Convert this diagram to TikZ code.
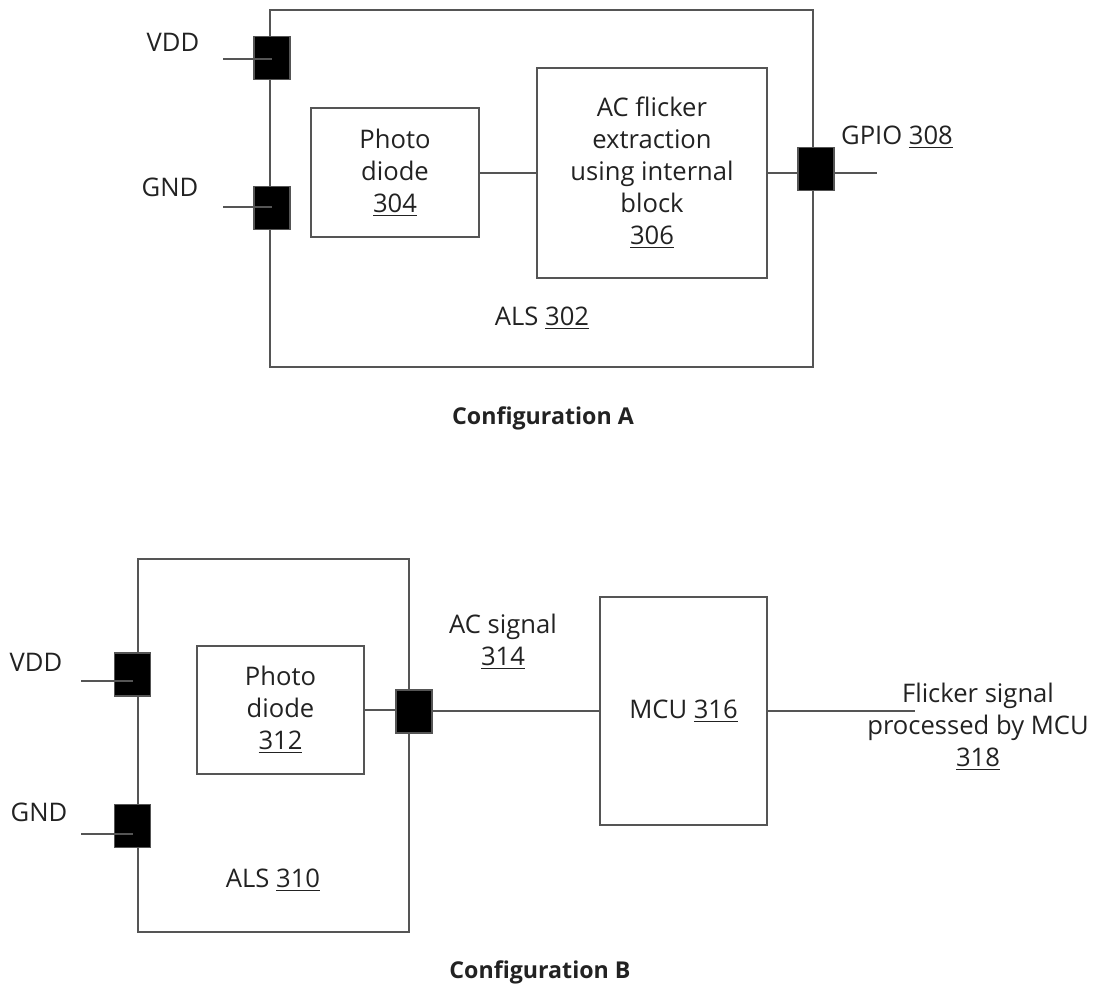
\documentclass[tikz,border=0pt]{standalone}
\usepackage{fontspec}
\setmainfont{Open Sans}
\usepackage{tikz}
\definecolor{linegray}{HTML}{555555}
\definecolor{textgray}{HTML}{222222}
\tikzset{
  lbl/.style={text=textgray,align=center,inner sep=0pt,font=\fontsize{12.8}{16}\selectfont},
  blockbox/.style={draw=linegray,line width=1pt,inner sep=0pt,lbl},
  pad/.style={fill=black,draw=linegray,line width=0.6pt,minimum width=18pt,minimum height=21.5pt,inner sep=0pt},
  wire/.style={draw=linegray,line width=1pt},
  caption/.style={text=textgray,inner sep=0pt,font=\fontsize{11.6}{14}\selectfont\bfseries}
}
\newcommand{\refnum}[1]{\underline{#1}}
\begin{document}
\begin{tikzpicture}[x=0.5pt,y=-0.5pt]
	  \useasboundingbox (0,0) rectangle (1093,992);
	  % Configuration A
	  \node[blockbox,minimum width=271.5pt,minimum height=178.5pt] (alsA) at (541.5,188.5) {};
	  \node[blockbox,minimum width=84pt,minimum height=64.5pt] (pdA) at (395,172.5) {Photo\\diode\\\refnum{304}};
	  \node[blockbox,minimum width=115pt,minimum height=105pt] (acA) at (652,173) {AC flicker\\extraction\\using internal\\block\\\refnum{306}};
	  \node[pad] (vddA) at (272,58) {};
	  \node[pad] (gndA) at (272,208) {};
	  \node[pad] (gpioA) at (816,169) {};
	  \coordinate (vddAin) at (223,59);
	  \coordinate (gndAin) at (223,207);
	  \coordinate (gpioAout) at (877,173);
	  \draw[wire] (vddAin) -- (vddAin -| vddA.center);
	  \draw[wire] (gndAin) -- (gndAin -| gndA.center);
	  \draw[wire] (pdA.east) -- (pdA.east -| acA.west);
	  \draw[wire] (acA.east) -- (acA.east -| gpioA.west);
	  \draw[wire] (acA.east -| gpioA.east) -- (gpioAout);
	  \node[lbl] (vddAlbl) at (173,42) {VDD};
	  \node[lbl] (gndAlbl) at (170,187) {GND};
	  \node[lbl] (gpioAlbl) at (897,137) {GPIO \refnum{308}};
	  \node[lbl] (alsAlbl) at (542,318) {ALS \refnum{302}};
	  \node[caption] (capA) at (543,418) {Configuration A};
	  % Configuration B
	  \node[blockbox,minimum width=135.5pt,minimum height=186.5pt] (alsB) at (273.5,745.5) {};
	  \node[blockbox,minimum width=83.5pt,minimum height=64pt] (pdB) at (280.5,710) {Photo\\diode\\\refnum{312}};
	  \node[blockbox,minimum width=83.5pt,minimum height=114pt] (mcu) at (683.5,711) {MCU \refnum{316}};
	  \node[pad] (vddB) at (132.5,674.5) {};
	  \node[pad] (gndB) at (132.5,826) {};
	  \node[pad] (outB) at (414,711.5) {};
	  \coordinate (vddBin) at (81,681);
	  \coordinate (gndBin) at (81,834);
	  \coordinate (flickOut) at (915,711);
	  \draw[wire] (vddBin) -- (vddBin -| vddB.center);
	  \draw[wire] (gndBin) -- (gndBin -| gndB.center);
	  \draw[wire] (pdB.east) -- (pdB.east -| outB.west);
	  \draw[wire] (outB.east |- mcu.west) -- (mcu.west);
	  \draw[wire] (mcu.east) -- (flickOut);
	  \node[lbl] (vddBlbl) at (36,662) {VDD};
	  \node[lbl] (gndBlbl) at (39,812) {GND};
	  \node[lbl] (acsig) at (503,642) {AC signal\\\refnum{314}};
	  \node[lbl] (flicklbl) at (978,727) {Flicker signal\\processed by MCU\\\refnum{318}};
	  \node[lbl] (alsBlbl) at (273,880) {ALS \refnum{310}};
	  \node[caption] (capB) at (540,972) {Configuration B};
	\end{tikzpicture}
\end{document}
